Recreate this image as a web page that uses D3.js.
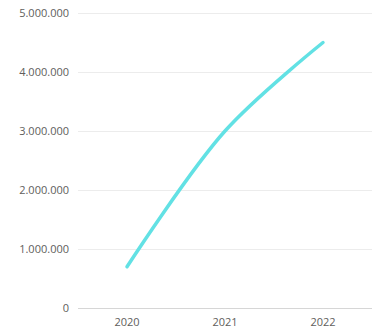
<!DOCTYPE html>
<html>
<head>
<meta charset="utf-8">
<script src="https://cdn.jsdelivr.net/npm/d3@7"></script>
<style>
  body { margin: 0; background: #fff; }
  svg { display: block; font-family: "Open Sans", "Noto Sans", sans-serif; }
</style>
</head>
<body>
<div id="chart"></div>
<script>
const years = ["2020", "2021", "2022"];
const values = [700000, 3000000, 4500000];
const yTicks = [0, 1000000, 2000000, 3000000, 4000000, 5000000];

const width = 372, height = 332;
const margin = {top: 13, right: 0, bottom: 24, left: 78};

const svg = d3.select("#chart")
  .append("svg")
  .attr("width", width)
  .attr("height", height);

const x = d3.scalePoint()
  .domain(years)
  .range([margin.left, width - margin.right])
  .padding(0.5);

const y = d3.scaleLinear()
  .domain([0, 5000000])
  .range([height - margin.bottom, margin.top]);

// Format with dots as thousand separators
const fmt = d => d3.format(",")(d).replace(/,/g, ".");

// Gridlines
svg.append("g")
  .selectAll("line")
  .data(yTicks)
  .enter().append("line")
  .attr("x1", margin.left)
  .attr("x2", width - margin.right)
  .attr("y1", d => Math.round(y(d)) + 0.5)
  .attr("y2", d => Math.round(y(d)) + 0.5)
  .attr("stroke", d => d === 0 ? "#d6d6d6" : "#ececec")
  .attr("stroke-width", 1);

// Y labels
svg.append("g")
  .selectAll("text")
  .data(yTicks)
  .enter().append("text")
  .attr("x", 69)
  .attr("y", d => y(d))
  .attr("dy", "0.35em")
  .attr("text-anchor", "end")
  .style("font-size", "11px")
  .attr("fill", "#605e5c")
  .text(fmt);

// X labels
svg.append("g")
  .selectAll("text")
  .data(years)
  .enter().append("text")
  .attr("x", d => x(d))
  .attr("y", height - margin.bottom + 18)
  .attr("text-anchor", "middle")
  .style("font-size", "11px")
  .attr("fill", "#605e5c")
  .text(d => d);

// Line
const line = d3.line()
  .x((d, i) => x(years[i]))
  .y(d => y(d))
  .curve(d3.curveCatmullRom.alpha(0.5));

svg.append("path")
  .datum(values)
  .attr("d", line)
  .attr("fill", "none")
  .attr("stroke", "#62e1e4")
  .attr("stroke-width", 3.5)
  .attr("stroke-linecap", "round");
</script>
</body>
</html>
